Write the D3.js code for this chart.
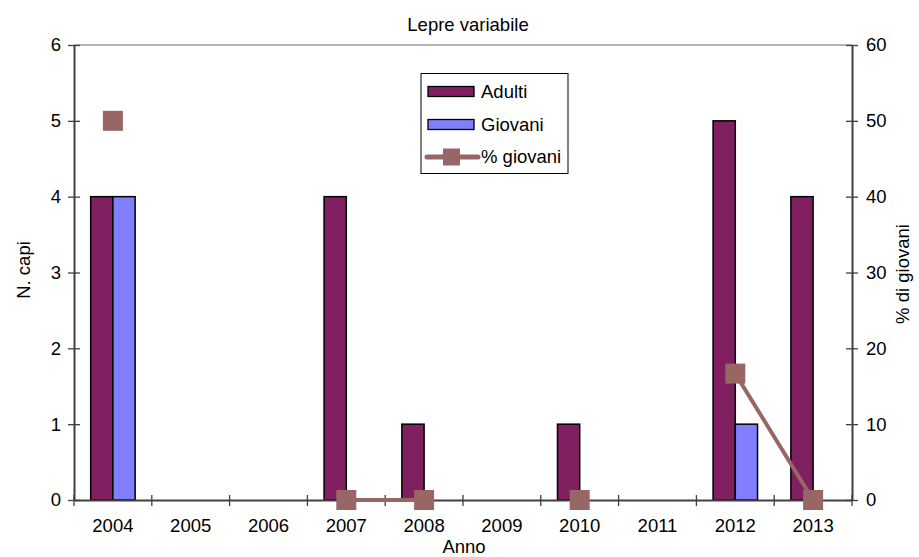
<!DOCTYPE html>
<html>
<head>
<meta charset="utf-8">
<script src="https://cdn.jsdelivr.net/npm/d3@7"></script>
<style>
  html, body { margin: 0; padding: 0; background: #fff; }
  svg { display: block; font-family: "Liberation Sans", Arial, Helvetica, sans-serif; }
</style>
</head>
<body>
<svg id="chart" width="919" height="557"></svg>
<script>
// Lepre variabile: adults and young counted per year, with % of young
const years = ["2004", "2005", "2006", "2007", "2008", "2009", "2010", "2011", "2012", "2013"];
const adulti = [4, 0, 0, 4, 1, 0, 1, 0, 5, 4];
const giovani = [4, 0, 0, 0, 0, 0, 0, 0, 1, 0];
const percGiovani = [50, null, null, 0, 0, null, 0, null, 16.67, 0];
const leftTicks = [0, 1, 2, 3, 4, 5, 6];
const rightTicks = [0, 10, 20, 30, 40, 50, 60];
const seriesNames = ["Adulti", "Giovani", "% giovani"];

const colAdulti = "#802060";
const colGiovani = "#8080ff";
const colPerc = "#996666";
const axisCol = "#404040";
const fontSize = "18.5px";

const svg = d3.select("#chart");
const plot = { left: 74, right: 852, top: 45, bottom: 500 };

const x = d3.scaleBand().domain(years).range([plot.left, plot.right]).padding(0);
const xSub = d3.scaleBand().domain(["adulti", "giovani"]).range([0, x.bandwidth()])
  .paddingInner(0).paddingOuter(0.75);
const yL = d3.scaleLinear().domain([0, 6]).range([plot.bottom, plot.top]);
const yR = d3.scaleLinear().domain([0, 60]).range([plot.bottom, plot.top]);

// plot area top border
svg.append("line")
  .attr("x1", plot.left).attr("x2", plot.right)
  .attr("y1", plot.top).attr("y2", plot.top)
  .attr("stroke", "#b4b4b4").attr("stroke-width", 2);

// bars
const groups = years.map((yr, i) => ({ yr, a: adulti[i], g: giovani[i] }));
const barG = svg.append("g");
groups.forEach(d => {
  [["adulti", d.a, colAdulti], ["giovani", d.g, colGiovani]].forEach(([k, v, c]) => {
    if (v > 0) {
      barG.append("rect")
        .attr("x", x(d.yr) + xSub(k))
        .attr("y", yL(v))
        .attr("width", xSub.bandwidth())
        .attr("height", yL(0) - yL(v))
        .attr("fill", c)
        .attr("stroke", "#000")
        .attr("stroke-width", 1.5);
    }
  });
});

// axes
const axisStyle = g => {
  g.select(".domain").attr("stroke", axisCol).attr("stroke-width", 2);
  g.selectAll(".tick line").attr("stroke", axisCol).attr("stroke-width", 1.3);
  g.selectAll("text").attr("font-size", fontSize).attr("fill", "#000")
    .attr("font-family", "Liberation Sans, Arial, sans-serif");
};

const leftAxis = svg.append("g").attr("transform", `translate(${plot.left},0)`)
  .call(d3.axisLeft(yL).tickValues(leftTicks).tickFormat(d3.format("d"))
    .tickSizeInner(6).tickSizeOuter(0).tickPadding(7))
  .call(axisStyle);
leftAxis.selectAll(".tick line").attr("x1", -6).attr("x2", 6);

const rightAxis = svg.append("g").attr("transform", `translate(${plot.right},0)`)
  .call(d3.axisRight(yR).tickValues(rightTicks).tickFormat(d3.format("d"))
    .tickSizeInner(6).tickSizeOuter(0).tickPadding(8))
  .call(axisStyle);
rightAxis.selectAll(".tick line").attr("x1", -6).attr("x2", 6);

// category axis: labels at band centres, ticks on band boundaries
const xAxis = svg.append("g").attr("transform", `translate(0,${plot.bottom})`)
  .call(d3.axisBottom(x).tickSize(0).tickPadding(19))
  .call(axisStyle);
const bounds = years.map(yr => x(yr)).concat([x(years[years.length - 1]) + x.bandwidth()]);
xAxis.selectAll(".bound").data(bounds).enter().append("line")
  .attr("class", "bound")
  .attr("x1", d => d).attr("x2", d => d)
  .attr("y1", -5).attr("y2", 6)
  .attr("stroke", axisCol).attr("stroke-width", 1.3);

// % giovani line and markers
const pts = years.map((yr, i) => ({ cx: x(yr) + x.bandwidth() / 2, v: percGiovani[i] }));
const line = d3.line().defined(d => d.v !== null).x(d => d.cx).y(d => yR(d.v));
svg.append("path").datum(pts)
  .attr("d", line)
  .attr("fill", "none")
  .attr("stroke", colPerc)
  .attr("stroke-width", 4);
const ms = 20;
svg.append("g").selectAll("rect").data(pts.filter(d => d.v !== null)).enter().append("rect")
  .attr("x", d => d.cx - ms / 2)
  .attr("y", d => yR(d.v) - ms / 2)
  .attr("width", ms).attr("height", ms)
  .attr("fill", colPerc);

// titles
svg.append("text").attr("x", 468).attr("y", 31).attr("text-anchor", "middle")
  .attr("font-size", fontSize).text("Lepre variabile");
svg.append("text").attr("x", 464).attr("y", 553).attr("text-anchor", "middle")
  .attr("font-size", fontSize).text("Anno");
svg.append("text").attr("transform", "translate(29.5,270) rotate(-90)")
  .attr("text-anchor", "middle").attr("font-size", fontSize).text("N. capi");
svg.append("text").attr("transform", "translate(909,274) rotate(-90)")
  .attr("text-anchor", "middle").attr("font-size", fontSize).text("% di giovani");

// legend
const leg = svg.append("g");
leg.append("rect").attr("x", 421).attr("y", 73.5).attr("width", 147).attr("height", 100)
  .attr("fill", "#fff").attr("stroke", "#000").attr("stroke-width", 1);
const legY = [91.5, 124.5, 157];
leg.append("rect").attr("x", 428).attr("y", legY[0] - 5).attr("width", 46).attr("height", 10)
  .attr("fill", colAdulti).attr("stroke", "#000").attr("stroke-width", 1.3);
leg.append("rect").attr("x", 428).attr("y", legY[1] - 5).attr("width", 46).attr("height", 10)
  .attr("fill", colGiovani).attr("stroke", "#000").attr("stroke-width", 1.3);
leg.append("line").attr("x1", 427).attr("x2", 478).attr("y1", legY[2]).attr("y2", legY[2])
  .attr("stroke", colPerc).attr("stroke-width", 5).attr("stroke-linecap", "round");
leg.append("rect").attr("x", 443).attr("y", legY[2] - 8.5).attr("width", 17).attr("height", 17)
  .attr("fill", colPerc);
seriesNames.forEach((s, i) => {
  leg.append("text").attr("x", 481).attr("y", legY[i]).attr("dy", "0.35em")
    .attr("font-size", fontSize).text(s);
});
</script>
</body>
</html>
